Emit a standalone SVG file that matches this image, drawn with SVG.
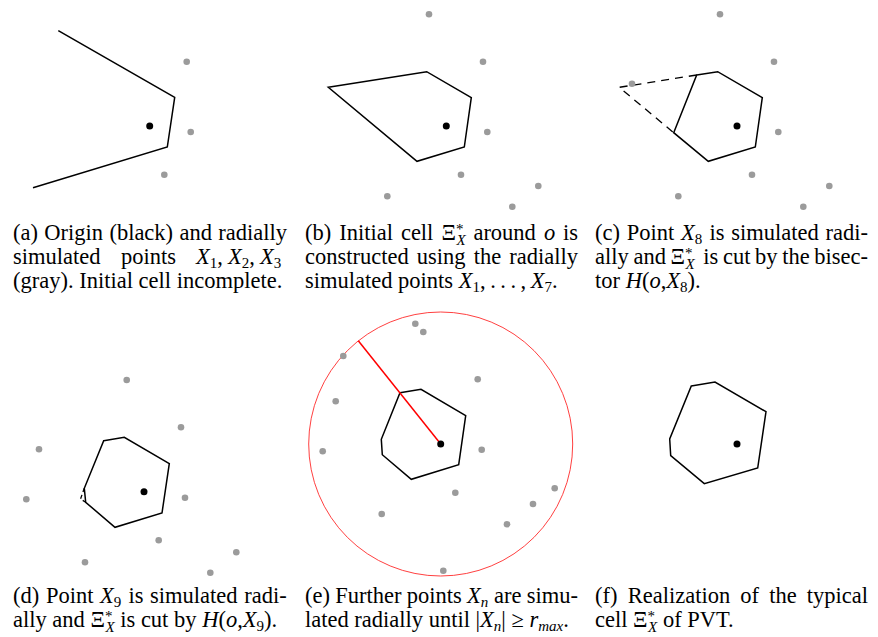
<svg xmlns="http://www.w3.org/2000/svg" width="878" height="637" viewBox="0 0 878 637">
<style>
.g{fill:#9b9b9b}
.o{fill:#000}
.cell{fill:none;stroke:#000;stroke-width:1.5;stroke-linejoin:miter}
.dash{fill:none;stroke:#000;stroke-width:1.3;stroke-dasharray:8,6}
.c{font-family:"Liberation Serif","Times New Roman",serif;font-size:22.5px;fill:#000}
.i{font-style:italic}
.s{font-size:15px}
</style>
<rect width="878" height="637" fill="#fff"/>

<g id="panel-a">
<polyline class="cell" points="58.3,30.7 174.7,97.3 167.3,147 33,187.7"/>
<circle class="o" cx="149.7" cy="126" r="3.5"/>
<circle class="g" cx="186.7" cy="61.7" r="3.3"/>
<circle class="g" cx="190.7" cy="132" r="3.3"/>
<circle class="g" cx="164.3" cy="174.7" r="3.3"/>
</g>

<g id="panel-b">
<polygon class="cell" points="328.3,87.3 426.7,71.7 471.3,97.7 464.3,147 417,161.3"/>
<circle class="o" cx="446.3" cy="126" r="3.5"/>
<circle class="g" cx="429" cy="14.3" r="3.3"/>
<circle class="g" cx="483" cy="61.7" r="3.3"/>
<circle class="g" cx="487.3" cy="132" r="3.3"/>
<circle class="g" cx="461" cy="174.7" r="3.3"/>
<circle class="g" cx="387.3" cy="196.3" r="3.3"/>
<circle class="g" cx="538.3" cy="186" r="3.3"/>
<circle class="g" cx="512.3" cy="206.7" r="3.3"/>
</g>

<g id="panel-c">
<polyline class="dash" points="696.7,75 619.3,87.3 673.7,132.7"/>
<polygon class="cell" points="696.7,75 717.7,71.7 762.3,97.7 755.3,147 708.3,161.3 673.7,132.7"/>
<circle class="o" cx="737" cy="126" r="3.5"/>
<circle class="g" cx="720" cy="14.3" r="3.3"/>
<circle class="g" cx="774" cy="61.7" r="3.3"/>
<circle class="g" cx="632" cy="83.7" r="3.3"/>
<circle class="g" cx="778.3" cy="132" r="3.3"/>
<circle class="g" cx="752" cy="174.7" r="3.3"/>
<circle class="g" cx="678.3" cy="196.3" r="3.3"/>
<circle class="g" cx="829.3" cy="186" r="3.3"/>
<circle class="g" cx="803.3" cy="206.7" r="3.3"/>
</g>

<g id="panel-d">
<polyline class="dash" style="stroke-dasharray:4,3" points="84.3,488.3 80.5,499 85.7,502.3"/>
<polygon class="cell" points="103.7,440.7 124.3,437.3 169.3,463.7 162,513 115,527.3 85.7,502.3 84.3,488.3"/>
<circle class="o" cx="144" cy="491.7" r="3.5"/>
<circle class="g" cx="126.7" cy="380" r="3.3"/>
<circle class="g" cx="181" cy="427.3" r="3.3"/>
<circle class="g" cx="39" cy="449.3" r="3.3"/>
<circle class="g" cx="26.3" cy="499.3" r="3.3"/>
<circle class="g" cx="185" cy="497.7" r="3.3"/>
<circle class="g" cx="158.7" cy="540.3" r="3.3"/>
<circle class="g" cx="85" cy="562.3" r="3.3"/>
<circle class="g" cx="236.3" cy="552.3" r="3.3"/>
<circle class="g" cx="210.3" cy="572.7" r="3.3"/>
</g>

<g id="panel-e">
<circle cx="440.7" cy="444" r="132" fill="none" stroke="#ff2a2a" stroke-width="0.9"/>
<polygon class="cell" points="400,392.7 421,389.3 465.7,415.7 458.7,464.7 411.3,479.3 382.3,454.7 381.3,439.3"/>
<line x1="358.3" y1="340.7" x2="440.7" y2="444" stroke="#f00" stroke-width="1.5"/>
<circle class="o" cx="440.7" cy="444" r="3.5"/>
<circle class="g" cx="415.3" cy="323.7" r="3.3"/>
<circle class="g" cx="423.3" cy="332" r="3.3"/>
<circle class="g" cx="343.3" cy="356" r="3.3"/>
<circle class="g" cx="477.7" cy="379.3" r="3.3"/>
<circle class="g" cx="335.7" cy="401.3" r="3.3"/>
<circle class="g" cx="322.7" cy="451.3" r="3.3"/>
<circle class="g" cx="481.7" cy="449.7" r="3.3"/>
<circle class="g" cx="455.3" cy="492.7" r="3.3"/>
<circle class="g" cx="554.7" cy="488.3" r="3.3"/>
<circle class="g" cx="533" cy="504" r="3.3"/>
<circle class="g" cx="381.7" cy="514" r="3.3"/>
<circle class="g" cx="507" cy="524.3" r="3.3"/>
<circle class="g" cx="443.3" cy="570.7" r="3.3"/>
</g>

<g id="panel-f">
<polygon class="cell" points="691.3,386 715,382 766,411.7 757.7,468 704.3,483.7 670.7,455.7 669.7,439"/>
<circle class="o" cx="737" cy="444" r="3.5"/>
</g>

<g id="caption-a">
<text class="c" y="240"><tspan x="13">(a)</tspan><tspan x="44.3">Origin</tspan><tspan x="109.4">(black)</tspan><tspan x="179.4">and</tspan><tspan x="218.3">radially</tspan></text>
<text class="c" y="264"><tspan x="13">simulated</tspan><tspan x="121">points</tspan><tspan x="196" class="i">X</tspan><tspan class="s" dy="3.5">1</tspan><tspan dy="-3.5">,</tspan><tspan x="228" class="i">X</tspan><tspan class="s" dy="3.5">2</tspan><tspan dy="-3.5">,</tspan><tspan x="260" class="i">X</tspan><tspan class="s" dy="3.5">3</tspan></text>
<text class="c" x="13" y="288">(gray). Initial cell incomplete.</text>
</g>

<g id="caption-b">
<text class="c" y="240"><tspan x="305">(b)</tspan><tspan x="339.2">Initial</tspan><tspan x="400.9">cell</tspan><tspan x="441.4">Ξ</tspan><tspan class="s" dy="-6">*</tspan><tspan class="s i" dx="-7" dy="11">X</tspan><tspan x="473.4" dy="-5">around</tspan><tspan x="543.9" class="i">o</tspan><tspan x="563.1">is</tspan></text>
<text class="c" y="264"><tspan x="305">constructed</tspan><tspan x="416.8">using</tspan><tspan x="473.7">the</tspan><tspan x="509.3">radially</tspan></text>
<text class="c" x="305" y="288">simulated points <tspan class="i">X</tspan><tspan class="s" dy="3.5">1</tspan><tspan dy="-3.5">,&#8201;.&#8201;.&#8201;.&#8201;,&#8201;</tspan><tspan class="i">X</tspan><tspan class="s" dy="3.5">7</tspan><tspan dy="-3.5">.</tspan></text>
</g>

<g id="caption-c">
<text class="c" y="240"><tspan x="595">(c)</tspan><tspan x="626.8">Point</tspan><tspan x="681.1" class="i">X</tspan><tspan class="s" dy="3.5">8</tspan><tspan x="709.5" dy="-3.5">is</tspan><tspan x="731.3">simulated</tspan><tspan x="825.6">radi-</tspan></text>
<text class="c" y="264"><tspan x="595">ally</tspan><tspan x="633.4">and</tspan><tspan x="670.6">Ξ</tspan><tspan class="s" dy="-6">*</tspan><tspan class="s i" dx="-7" dy="11">X</tspan><tspan x="703.2" dy="-5">is</tspan><tspan x="722.9">cut</tspan><tspan x="755">by</tspan><tspan x="782.2">the</tspan><tspan x="814.3">bisec-</tspan></text>
<text class="c" x="595" y="288">tor <tspan class="i">H</tspan>(<tspan class="i">o</tspan>,<tspan class="i">X</tspan><tspan class="s" dy="3.5">8</tspan><tspan dy="-3.5">).</tspan></text>
</g>

<g id="caption-d">
<text class="c" y="603"><tspan x="13">(d)</tspan><tspan x="45.9">Point</tspan><tspan x="100.1" class="i">X</tspan><tspan class="s" dy="3.5">9</tspan><tspan x="128.4" dy="-3.5">is</tspan><tspan x="150.1">simulated</tspan><tspan x="244.3">radi-</tspan></text>
<text class="c" x="13" y="627">ally and Ξ<tspan class="s" dy="-6">*</tspan><tspan class="s i" dx="-7" dy="11">X</tspan><tspan dy="-5"> is cut by </tspan><tspan class="i">H</tspan>(<tspan class="i">o</tspan>,<tspan class="i">X</tspan><tspan class="s" dy="3.5">9</tspan><tspan dy="-3.5">).</tspan></text>
</g>

<g id="caption-e">
<text class="c" y="603"><tspan x="305">(e)</tspan><tspan x="335.3">Further</tspan><tspan x="406.8">points</tspan><tspan x="467.1" class="i">X</tspan><tspan class="s i" dy="3.5">n</tspan><tspan x="494" dy="-3.5">are</tspan><tspan x="526.8">simu-</tspan></text>
<text class="c" x="305" y="627">lated radially until |<tspan class="i">X</tspan><tspan class="s i" dy="3.5">n</tspan><tspan dy="-3.5">| ≥ </tspan><tspan class="i">r</tspan><tspan class="s i" dy="3.5">max</tspan><tspan dy="-3.5">.</tspan></text>
</g>

<g id="caption-f">
<text class="c" y="603"><tspan x="595">(f)</tspan><tspan x="627.7">Realization</tspan><tspan x="740.3">of</tspan><tspan x="769.2">the</tspan><tspan x="806.8">typical</tspan></text>
<text class="c" x="595" y="627">cell Ξ<tspan class="s" dy="-6">*</tspan><tspan class="s i" dx="-7" dy="11">X</tspan><tspan dy="-5"> of PVT.</tspan></text>
</g>
</svg>
